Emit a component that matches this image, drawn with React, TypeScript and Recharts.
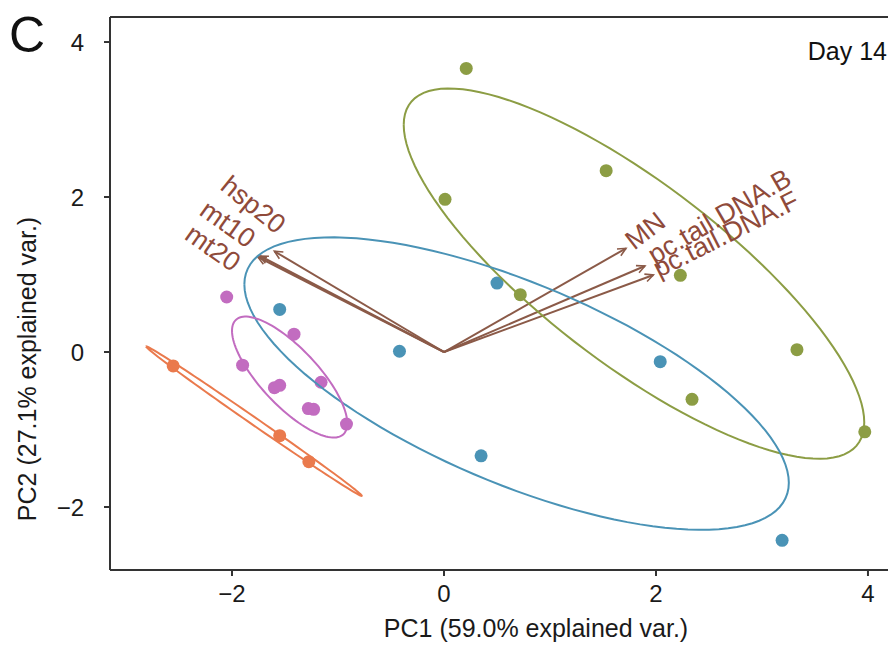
import React from "react";
import {
  ScatterChart,
  Scatter,
  XAxis,
  YAxis,
  ReferenceLine,
  ReferenceDot,
} from "recharts";

type Pt = { x: number; y: number };

// PCA scores per group
const greenPts: Pt[] = [
  { x: 0.21, y: 3.66 },
  { x: 0.01, y: 1.97 },
  { x: 1.53, y: 2.34 },
  { x: 0.72, y: 0.74 },
  { x: 2.23, y: 0.99 },
  { x: 2.34, y: -0.61 },
  { x: 3.33, y: 0.03 },
  { x: 3.97, y: -1.03 },
];
const bluePts: Pt[] = [
  { x: -1.55, y: 0.55 },
  { x: -0.42, y: 0.01 },
  { x: 0.5, y: 0.89 },
  { x: 2.04, y: -0.125 },
  { x: 0.35, y: -1.34 },
  { x: 3.19, y: -2.43 },
];
const purplePts: Pt[] = [
  { x: -2.05, y: 0.71 },
  { x: -1.415, y: 0.23 },
  { x: -1.9, y: -0.17 },
  { x: -1.6, y: -0.46 },
  { x: -1.55, y: -0.43 },
  { x: -1.16, y: -0.39 },
  { x: -1.28, y: -0.73 },
  { x: -1.23, y: -0.74 },
  { x: -0.92, y: -0.93 },
];
const orangePts: Pt[] = [
  { x: -2.555, y: -0.18 },
  { x: -1.55, y: -1.08 },
  { x: -1.275, y: -1.415 },
];

// loadings (arrow tips) and where their names sit
const varNames = ["hsp20", "mt10", "mt20", "MN", "pc.tail.DNA.B", "pc.tail.DNA.F"];
const varX = [-1.6, -1.736, -1.755, 1.717, 1.896, 1.975];
const varY = [1.3, 1.239, 1.226, 1.338, 1.11, 0.994];
const labelX = [-1.8, -2.04, -2.18, 1.9, 2.6, 2.66];
const labelY = [1.9, 1.65, 1.34, 1.565, 1.75, 1.52];

const xTicks = [-2, 0, 2, 4];
const yTicks = [-2, 0, 2, 4];
const xDomain = [-3.151, 4.189];
const yDomain = [-2.813, 4.323];

const GREEN = "#8c9d44";
const BLUE = "#4a93b6";
const PURPLE = "#c26cc0";
const ORANGE = "#ea7a4d";
const ARROW = "#8b5a48";
const LABEL = "#8f4a3a";
const AXIS = "#333";
const FONT = "'Liberation Sans', Arial, Helvetica, sans-serif";

// normal data ellipse (ggbiplot style, prob 0.68) from the group's scores
function dataEllipse(pts: Pt[], prob = 0.68, n = 120): Pt[] {
  const m = pts.length;
  const mx = pts.reduce((s, p) => s + p.x, 0) / m;
  const my = pts.reduce((s, p) => s + p.y, 0) / m;
  let sxx = 0, syy = 0, sxy = 0;
  pts.forEach((p) => {
    sxx += (p.x - mx) ** 2;
    syy += (p.y - my) ** 2;
    sxy += (p.x - mx) * (p.y - my);
  });
  sxx /= m - 1;
  syy /= m - 1;
  sxy /= m - 1;
  const a = Math.sqrt(sxx);
  const b = sxy / a;
  const c = Math.sqrt(Math.max(syy - b * b, 0));
  const ed = Math.sqrt(-2 * Math.log(1 - prob));
  const out: Pt[] = [];
  for (let i = 0; i <= n; i++) {
    const t = -Math.PI + (2 * Math.PI * i) / n;
    const ct = Math.cos(t), st = Math.sin(t);
    out.push({ x: mx + ed * a * ct, y: my + ed * (b * ct + c * st) });
  }
  return out;
}

const groups = [
  { pts: greenPts, color: GREEN },
  { pts: bluePts, color: BLUE },
  { pts: purplePts, color: PURPLE },
  { pts: orangePts, color: ORANGE },
];

const dot = (color: string) => (p: any) => (
  <circle cx={p.cx} cy={p.cy} r={6.5} fill={color} />
);

const arrowShape = (p: any) => {
  const { x1, y1, x2, y2 } = p;
  const ang = Math.atan2(y2 - y1, x2 - x1);
  const L = 9;
  const s = Math.PI / 7;
  const hx1 = x2 - L * Math.cos(ang - s);
  const hy1 = y2 - L * Math.sin(ang - s);
  const hx2 = x2 - L * Math.cos(ang + s);
  const hy2 = y2 - L * Math.sin(ang + s);
  return (
    <g>
      <line x1={x1} y1={y1} x2={x2} y2={y2} stroke={ARROW} strokeWidth={2} />
      <polyline
        points={`${hx1},${hy1} ${x2},${y2} ${hx2},${hy2}`}
        fill="none"
        stroke={ARROW}
        strokeWidth={1.6}
      />
    </g>
  );
};

const fmt = (v: number) => String(v).replace("-", "\u2212");

export default function App() {
  return (
    <div style={{ position: "absolute", left: 0, top: 0, width: 888, height: 648, overflow: "hidden", background: "#fff" }}>
      <ScatterChart width={888} height={648} margin={{ top: 17, right: 0, bottom: 0, left: 0 }}>
        <XAxis
          type="number"
          dataKey="x"
          domain={xDomain}
          ticks={xTicks}
          allowDataOverflow
          height={78}
          tickSize={6}
          tickMargin={9}
          tickFormatter={fmt}
          stroke={AXIS}
          axisLine={{ stroke: AXIS, strokeWidth: 2 }}
          tickLine={{ stroke: AXIS, strokeWidth: 2 }}
          tick={{ fontSize: 24, fill: "#1a1a1a", fontFamily: FONT }}
        />
        <YAxis
          type="number"
          dataKey="y"
          domain={yDomain}
          ticks={yTicks}
          allowDataOverflow
          width={110}
          tickSize={6}
          tickMargin={20}
          tickFormatter={fmt}
          stroke={AXIS}
          axisLine={{ stroke: AXIS, strokeWidth: 2 }}
          tickLine={{ stroke: AXIS, strokeWidth: 2 }}
          tick={{ fontSize: 24, fill: "#1a1a1a", fontFamily: FONT }}
        />
        <ReferenceLine y={yDomain[1]} stroke={AXIS} strokeWidth={2} ifOverflow="visible" />

        {varNames.map((name, i) => (
          <ReferenceLine
            key={"arr" + name}
            segment={[{ x: 0, y: 0 }, { x: varX[i], y: varY[i] }]}
            shape={arrowShape}
            ifOverflow="visible"
          />
        ))}

        {groups.map((g, i) => (
          <Scatter
            key={"pts" + i}
            data={g.pts}
            shape={dot(g.color)}
            isAnimationActive={false}
          />
        ))}

        {groups.map((g, i) => (
          <Scatter
            key={"ell" + i}
            data={dataEllipse(g.pts)}
            line={{ stroke: g.color, strokeWidth: 2, fill: "none" }}
            lineType="joint"
            shape={() => <g />}
            isAnimationActive={false}
          />
        ))}

        {varNames.map((name, i) => {
          const ang = (Math.atan(varY[i] / varX[i]) * 180) / Math.PI;
          return (
            <ReferenceDot
              key={"lab" + name}
              x={labelX[i]}
              y={labelY[i]}
              ifOverflow="visible"
              shape={(p: any) => (
                <text
                  x={p.cx}
                  y={p.cy}
                  transform={`rotate(${-ang}, ${p.cx}, ${p.cy})`}
                  textAnchor="middle"
                  dominantBaseline="central"
                  fontSize={27}
                  fontFamily={FONT}
                  fill={LABEL}
                >
                  {name}
                </text>
              )}
            />
          );
        })}
      </ScatterChart>

      <svg
        width={888}
        height={648}
        style={{ position: "absolute", left: 0, top: 0, pointerEvents: "none" }}
      >
        <text x={9} y={52} fontSize={50} fontFamily={FONT} fill="#111">C</text>
        <text x={887} y={60} fontSize={25} fontFamily={FONT} fill="#111" textAnchor="end">Day 14</text>
        <text x={536} y={637} fontSize={25} fontFamily={FONT} fill="#1a1a1a" textAnchor="middle">
          PC1 (59.0% explained var.)
        </text>
        <text
          x={36}
          y={369}
          fontSize={25}
          fontFamily={FONT}
          fill="#1a1a1a"
          textAnchor="middle"
          transform="rotate(-90, 36, 369)"
        >
          PC2 (27.1% explained var.)
        </text>
      </svg>
    </div>
  );
}
